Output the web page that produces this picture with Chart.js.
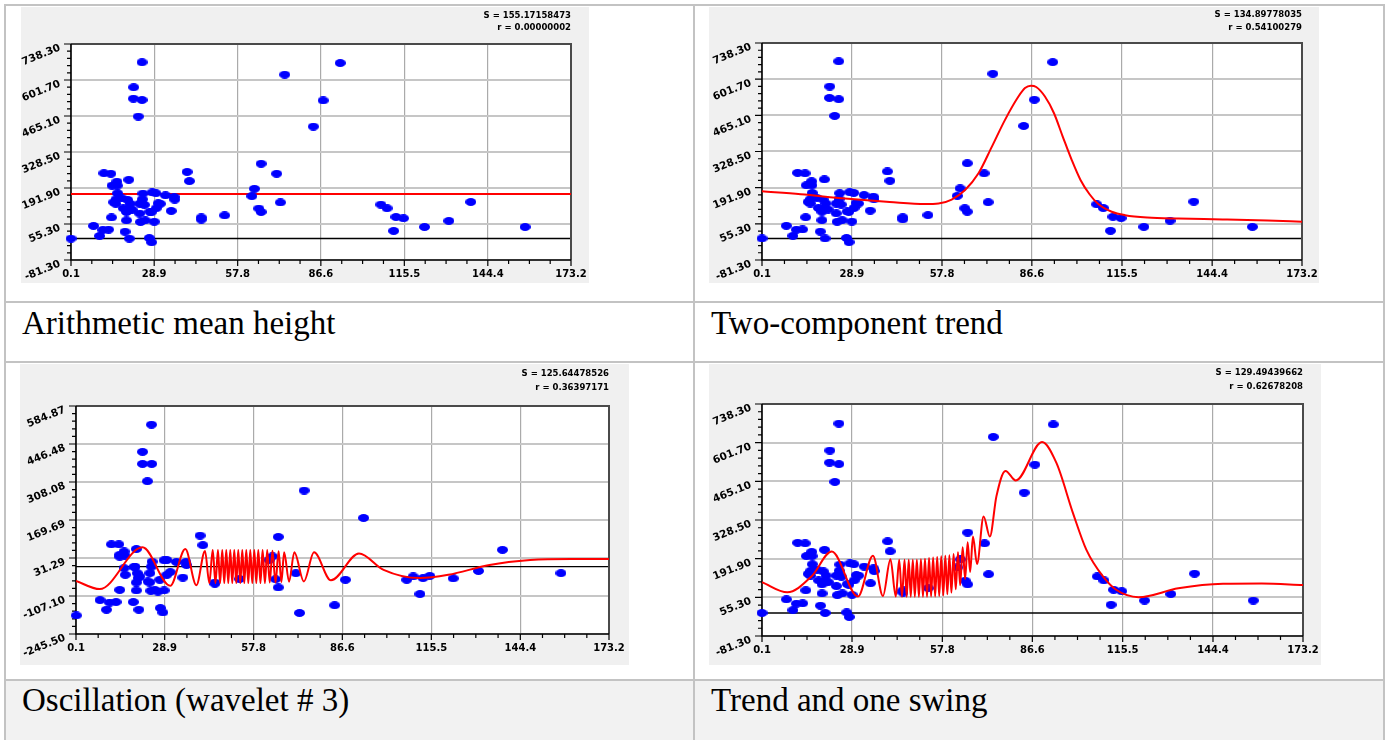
<!DOCTYPE html>
<html><head><meta charset="utf-8"><title>Profile height models</title>
<script src="https://cdn.jsdelivr.net/npm/chart.js@4.4.1/dist/chart.umd.min.js"></script>
<style>
html,body{margin:0;padding:0;background:#fff;}
body{position:relative;width:1387px;height:740px;overflow:hidden;font-family:"Liberation Serif","Times New Roman",serif;}
.ln{position:absolute;background:#c3c3c3;}
.capbg{position:absolute;background:#f2f2f2;}
canvas{position:absolute;background:#f0f0f0;}
.cap{position:absolute;font-size:33px;line-height:33px;color:#000;white-space:nowrap;}
</style></head><body>
<div class="capbg" style="left:6px;top:681px;width:1377px;height:59px"></div>
<div class="ln" style="left:4px;top:4px;width:1381px;height:2px"></div>
<div class="ln" style="left:4px;top:4px;width:2px;height:736px"></div>
<div class="ln" style="left:1383px;top:4px;width:2px;height:736px"></div>
<div class="ln" style="left:693px;top:4px;width:2px;height:736px"></div>
<div class="ln" style="left:4px;top:301px;width:1381px;height:2px"></div>
<div class="ln" style="left:4px;top:361px;width:1381px;height:2px"></div>
<div class="ln" style="left:4px;top:679px;width:1381px;height:2px"></div>

<canvas id="c1" width="568" height="276" style="left:21px;top:7px"></canvas>
<canvas id="c2" width="610" height="276" style="left:709px;top:7px"></canvas>
<canvas id="c3" width="609" height="301" style="left:20px;top:364px"></canvas>
<canvas id="c4" width="612" height="301" style="left:709px;top:364px"></canvas>

<div class="cap" id="t1" style="left:22px;top:307px"></div>
<div class="cap" id="t2" style="left:711px;top:307px"></div>
<div class="cap" id="t3" style="left:22px;top:684px"></div>
<div class="cap" id="t4" style="left:711px;top:684px"></div>

<script>
// ---------------- data ----------------
const xTicks = [0.1, 28.9, 57.8, 86.6, 115.5, 144.4, 173.2];
const heightTicks = [-81.30, 55.30, 191.90, 328.50, 465.10, 601.70, 738.30];
const residualTicks = [-245.50, -107.10, 31.29, 169.69, 308.08, 446.48, 584.87];

const captions = ["Arithmetic mean height", "Two-component trend", "Oscillation (wavelet # 3)", "Trend and one swing"];
const statS = ["155.17158473", "134.89778035", "125.64478526", "129.49439662"];
const statR = ["0.00000002", "0.54100279", "0.36397171", "0.62678208"];

const heightX = [0.1,7.9,10.0,11.1,13.1,11.5,13.9,14.1,14.3,16.0,16.1,16.2,15.7,15.6,14.9,20.1,18.8,20.3,19.3,19.3,17.7,19.7,20.6,20.2,21.3,18.2,21.8,21.7,24.7,23.4,24.7,25.0,24.8,23.9,25.5,23.9,24.2,25.8,24.6,27.2,28.0,28.9,27.9,27.4,28.2,29.5,29.6,30.3,31.0,32.8,35.8,36.0,34.8,40.3,41.1,45.2,45.2,53.3,62.7,63.6,65.9,65.1,65.9,71.3,72.6,74.1,84.0,87.4,93.3,107.4,109.5,112.6,115.2,111.8,122.5,130.9,138.5,157.3];
const heightY = [0,48,10,33,34,248,246,80,201,216,201,172,149,132,138,223,26,0,69,101,153,147,132,114,109,115,574,531,526,463,669,171,149,132,128,95,63,69,134,2,-14,64,100,102,175,172,115,134,132,164,158,148,105,253,218,80,72,88,161,189,284,114,101,246,137,622,425,524,666,129,115,82,77,29,44,67,139,44];

const residualX = [0.2,7.9,10.0,11.0,13.1,11.6,14.0,14.3,14.3,15.7,16.0,19.7,15.7,16.1,18.7,20.5,19.7,19.7,20.3,19.1,20.0,21.7,21.7,24.7,23.3,24.6,24.8,24.6,24.1,24.0,24.4,25.7,27.5,28.3,28.7,28.7,29.6,30.7,29.6,32.7,35.8,36.0,34.8,40.4,41.3,45.2,45.2,53.2,62.8,63.9,65.8,64.9,65.8,71.5,72.7,74.2,84.1,87.6,93.5,107.5,109.6,112.8,115.0,111.8,122.6,130.8,138.6,157.6,14.3,19.2,20.8,23.5,27.3,26.7];
const residualY = [-178,-122,-157,-131,-129,81,81,-85,43,55,40,64,-6,-30,-129,-157,-87,-58,-42,-2,-24,418,374,374,311,517,18,0,-24,-58,-88,-85,-151,-167,-87,23,24,-20,-30,17,17,6,-40,113,78,-58,-62,-45,24,37,108,-46,-76,-24,-169,277,-141,-48,177,-48,-36,-42,-34,-100,-43,-16,61,-24,36,0,-36,-54,-48,-91];

const meanX = [0.1, 173.2];
const meanY = [169, 169];

const trendX = [0.1,12.5,26.7,41.0,52.4,56.7,60.9,65.2,69.5,73.8,78.0,82.3,84.4,86.3,88.0,90.8,93.7,96.5,99.4,102.2,105.1,107.9,112.2,116.5,123.6,133.6,147.8,162.1,173.2];
const trendY = [178,167,151,138,130,132,147,183,246,347,448,536,568,577,572,536,473,385,296,221,167,130,101,88,79,75,72,68,63];

const waveX = [0.1,7.8,21.7,30.7,35.6,39.2,42.0,43.4,44.5,45.4,46.2,46.9,47.6,48.25,48.9,49.55,50.2,50.85,51.5,52.15,52.8,53.45,54.1,54.75,55.4,56.05,56.7,57.35,58.0,58.65,59.3,60.0,60.7,61.45,62.2,63.0,63.9,64.9,65.9,66.8,67.7,69.3,71.0,74.1,77.4,82.9,92.0,100.0,111.8,121.0,134.4,147.6,160.9,173.2];
const waveY = [-52,-82,70,-70,64,-68,57,-60,60,-60,60,-60,60,-60,60,-60,60,-60,60,-60,60,-60,60,-60,60,-60,60,-60,60,-60,60,-60,60,-60,60,-58,58,-58,56,-56,52,-55,52,-54,52,-50,48,-12,-42,-30,6,24,28,28];

const swingX = [0.1,8.2,16.0,22.4,30.8,35.6,38.8,41.2,42.9,44.0,44.9,45.7,46.4,47.05,47.7,48.35,49.0,49.65,50.3,50.95,51.6,52.25,52.9,53.55,54.2,54.85,55.5,56.15,56.8,57.45,58.1,58.75,59.4,60.05,60.7,61.4,62.1,62.8,63.5,64.3,65.1,65.9,66.7,67.6,68.9,71.0,73.0,75.1,78.0,81.3,89.7,94.3,99.6,103.9,109.2,113.4,120.6,133.3,147.6,160.0,173.2];
const swingY = [109,73,130,217,58,202,60,190,58,188,57,188,57,188,57,188,57,188,57,190,57,192,57,194,58,196,58,198,60,200,62,202,66,204,72,208,84,215,98,232,120,250,145,270,173,341,270,412,502,468,604,530,353,223,129,82,56,87,103,104,99];

// ---------------- helpers ----------------
function pairs(xs, ys) { return xs.map((x, i) => ({ x: x, y: ys[i] })); }
function ellipseDot(w, h) {
  const c = document.createElement('canvas');
  c.width = w; c.height = h;
  const g = c.getContext('2d');
  g.fillStyle = '#0000ff';
  g.beginPath(); g.ellipse(w / 2, h / 2, w / 2, h / 2, 0, 0, Math.PI * 2); g.fill();
  return c;
}
const dot = ellipseDot(11, 8);

const framePlugin = {
  id: 'frame',
  beforeDraw(chart) {
    const ctx = chart.ctx, a = chart.chartArea;
    ctx.save(); ctx.fillStyle = '#ffffff';
    ctx.fillRect(a.left, a.top, a.right - a.left, a.bottom - a.top);
    ctx.restore();
  },
  beforeDatasetsDraw(chart, args, o) {
    const ctx = chart.ctx, a = chart.chartArea, xs = chart.scales.x, ys = chart.scales.y;
    ctx.save();
    const y0 = ys.getPixelForValue(0);
    ctx.strokeStyle = '#000'; ctx.lineWidth = 1.4;
    ctx.beginPath(); ctx.moveTo(a.left, y0); ctx.lineTo(a.right, y0); ctx.stroke();
    ctx.strokeStyle = '#4a4a4a'; ctx.lineWidth = 2;
    ctx.beginPath(); ctx.moveTo(a.left, a.top); ctx.lineTo(a.right, a.top); ctx.lineTo(a.right, a.bottom); ctx.stroke();
    ctx.strokeStyle = '#000'; ctx.lineWidth = 1.6;
    ctx.beginPath(); ctx.moveTo(a.left, a.top); ctx.lineTo(a.left, a.bottom); ctx.lineTo(a.right, a.bottom); ctx.stroke();
    ctx.lineWidth = 1.2; ctx.strokeStyle = '#000';
    ctx.beginPath();
    const yt = o.yTicks;
    for (let i = 0; i < yt.length; i++) {
      const p = ys.getPixelForValue(yt[i]);
      ctx.moveTo(a.left - 7, p); ctx.lineTo(a.left, p);
      if (i < yt.length - 1) {
        for (let k = 1; k < 5; k++) {
          const q = ys.getPixelForValue(yt[i] + (yt[i + 1] - yt[i]) * k / 5);
          ctx.moveTo(a.left - 4, q); ctx.lineTo(a.left, q);
        }
      }
    }
    const xt = o.xTicks;
    for (let i = 0; i < xt.length; i++) {
      const p = xs.getPixelForValue(xt[i]);
      ctx.moveTo(p, a.bottom); ctx.lineTo(p, a.bottom + 6);
      if (i < xt.length - 1) {
        for (let k = 1; k < 4; k++) {
          const q = xs.getPixelForValue(xt[i] + (xt[i + 1] - xt[i]) * k / 4);
          ctx.moveTo(q, a.bottom); ctx.lineTo(q, a.bottom + 4);
        }
      }
    }
    ctx.stroke();
    ctx.restore();
  },
  afterDraw(chart, args, o) {
    const ctx = chart.ctx, a = chart.chartArea, xs = chart.scales.x, ys = chart.scales.y;
    ctx.save();
    ctx.fillStyle = '#000';
    ctx.textBaseline = 'alphabetic';
    ctx.font = 'bold 10px "DejaVu Sans", Verdana, sans-serif';
    ctx.textAlign = 'center';
    o.xTicks.forEach(v => ctx.fillText(v.toFixed(1), xs.getPixelForValue(v), a.bottom + 17));
    ctx.font = 'bold 10.5px "DejaVu Sans", Verdana, sans-serif';
    ctx.textAlign = 'right';
    o.yTicks.forEach(v => {
      const p = ys.getPixelForValue(v);
      ctx.save();
      ctx.translate(a.left - 10, p + 6);
      ctx.rotate(-22 * Math.PI / 180);
      ctx.fillText(v.toFixed(2), 0, 0);
      ctx.restore();
    });
    ctx.font = 'bold 8.5px "DejaVu Sans", Verdana, sans-serif';
    ctx.textAlign = 'right';
    ctx.fillText('S = ' + o.s, a.right, o.sY);
    ctx.fillText('r = ' + o.r, a.right, o.rY);
    ctx.restore();
  }
};

function makeChart(id, spec) {
  const datasets = [
    { type: 'line', data: pairs(spec.px, spec.py), showLine: false, pointStyle: dot,
      pointRadius: 5, pointHoverRadius: 5, clip: false, order: spec.lineOnTop ? 1 : 0 },
    { type: 'line', data: pairs(spec.lx, spec.ly), borderColor: '#ff0000', borderWidth: 2,
      pointRadius: 0, fill: false, tension: 0, cubicInterpolationMode: spec.mono ? 'monotone' : 'default',
      order: spec.lineOnTop ? 0 : 1 }
  ];
  const yt = spec.yTicks;
  return new Chart(document.getElementById(id), {
    type: 'line',
    data: { datasets: datasets },
    options: {
      responsive: false, animation: false, devicePixelRatio: 1, events: [],
      layout: { padding: spec.pad },
      plugins: {
        legend: { display: false }, tooltip: { enabled: false },
        frame: { xTicks: xTicks, yTicks: yt, s: spec.s, r: spec.r, sY: spec.sY, rY: spec.rY }
      },
      scales: {
        x: { type: 'linear', min: xTicks[0], max: xTicks[xTicks.length - 1],
             afterBuildTicks: s => { s.ticks = xTicks.map(v => ({ value: v })); },
             ticks: { display: false }, grid: { color: '#aaaaaa', lineWidth: 1.2, drawTicks: false },
             border: { display: false } },
        y: { type: 'linear', min: yt[0], max: yt[yt.length - 1],
             afterBuildTicks: s => { s.ticks = yt.map(v => ({ value: v })); },
             ticks: { display: false }, grid: { color: '#c6c6c6', lineWidth: 2, drawTicks: false },
             border: { display: false } }
      }
    },
    plugins: [framePlugin]
  });
}

captions.forEach((t, i) => { document.getElementById('t' + (i + 1)).textContent = t; });

makeChart('c1', { px: heightX, py: heightY, lx: meanX, ly: meanY, yTicks: heightTicks, mono: false, lineOnTop: false,
  pad: { left: 50, top: 37, right: 18, bottom: 23 }, s: statS[0], r: statR[0], sY: 10.5, rY: 22.5 });
makeChart('c2', { px: heightX, py: heightY, lx: trendX, ly: trendY, yTicks: heightTicks, mono: true, lineOnTop: true,
  pad: { left: 53, top: 36, right: 17, bottom: 23 }, s: statS[1], r: statR[1], sY: 10, rY: 22.5 });
makeChart('c3', { px: residualX, py: residualY, lx: waveX, ly: waveY, yTicks: residualTicks, mono: true, lineOnTop: true,
  pad: { left: 56, top: 42, right: 20, bottom: 31 }, s: statS[2], r: statR[2], sY: 12, rY: 26 });
makeChart('c4', { px: heightX, py: heightY, lx: swingX, ly: swingY, yTicks: heightTicks, mono: true, lineOnTop: true,
  pad: { left: 53, top: 40, right: 18, bottom: 29 }, s: statS[3], r: statR[3], sY: 10.5, rY: 25 });
</script>
</body></html>
